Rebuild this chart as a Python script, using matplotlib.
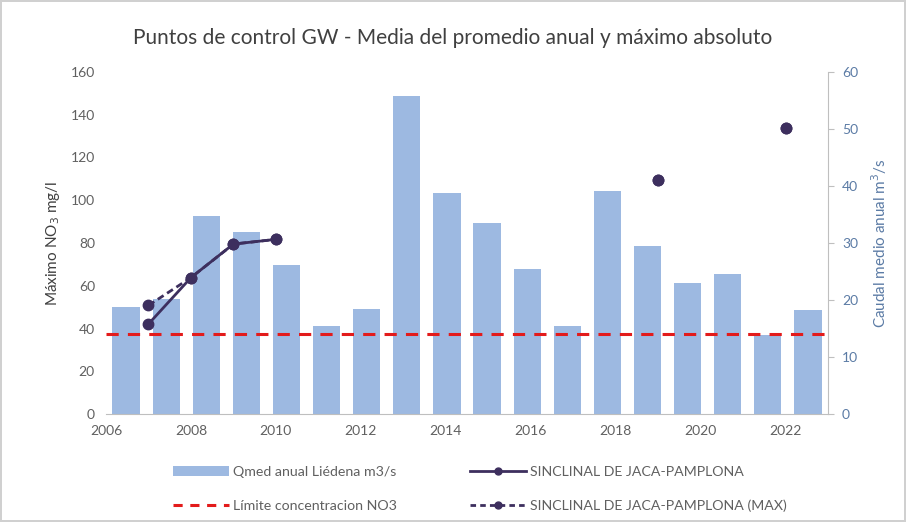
import matplotlib
matplotlib.use("Agg")
import matplotlib.pyplot as plt
import numpy as np
from matplotlib.lines import Line2D
from matplotlib.patches import Patch

years_bar = list(range(2006, 2024))
qmed = [18.8, 20.2, 34.7, 31.9, 26.1, 15.4, 18.4, 55.8, 38.8, 33.5, 25.4, 15.4,
        39.1, 29.5, 23.0, 24.6, 13.8, 18.2]

years_line = [2007, 2008, 2009, 2010, 2011, 2012, 2013, 2014, 2015, 2016, 2017, 2018, 2019, 2020, 2021, 2022]
sinclinal = [42.1, 63.8, 79.5, 81.7, np.nan, np.nan, np.nan, np.nan, np.nan, np.nan, np.nan, np.nan, 109.3, np.nan, np.nan, 134.0]
sinclinal_max = [50.8, 63.8, 79.5, 81.7, np.nan, np.nan, np.nan, np.nan, np.nan, np.nan, np.nan, np.nan, 109.3, np.nan, np.nan, 134.0]
limite = 37.5

x_ticks = list(range(2006, 2023, 2))
left_ticks = list(range(0, 161, 20))
right_ticks = list(range(0, 61, 10))

plt.rcParams['font.family'] = ['Lato', 'DejaVu Sans']

BAR_C = '#9DB9E1'
LINE_C = '#3D2F5E'
RED_C = '#E31B1B'
GRID_C = '#D6D6D6'
TXT_C = '#606060'
RIGHT_C = '#5B7BA5'

fig = plt.figure(figsize=(9.06, 5.22), dpi=100)
fig.patch.set_edgecolor('#D0D0D0')
fig.patch.set_linewidth(1.5)

pos = [106/906, 1-414/522, (828-106)/906, (414-72)/522]

# bar axes (category axis, right y)
axb = fig.add_axes(pos)
axb.bar(np.arange(len(years_bar)), qmed, width=0.68, color=BAR_C, zorder=2)
axb.set_xlim(-0.5, len(years_bar) - 0.5)
axb.set_ylim(0, 60)
axb.set_yticks(right_ticks)
axb.yaxis.tick_right()
axb.yaxis.set_label_position('right')
axb.tick_params(axis='y', colors=RIGHT_C, labelsize=10, length=4, color='#BFBFBF', pad=6)
axb.tick_params(axis='x', bottom=False, labelbottom=False)
for s in ['top', 'left', 'bottom']:
    axb.spines[s].set_visible(False)
axb.spines['right'].set_color('#BFBFBF')
axb.set_ylabel('Caudal medio anual m$^3$/s', color=RIGHT_C, fontsize=11, labelpad=8)

# grid axes behind
axg = fig.add_axes(pos, zorder=-1)
axg.set_xlim(2006, 2023)
axg.set_ylim(0, 160)
axg.set_xticks(x_ticks)
axg.set_yticks(left_ticks)
axg.grid(True, color=GRID_C, linewidth=0.9)
axg.tick_params(left=False, bottom=False, labelleft=False, labelbottom=False)
for s in axg.spines.values():
    s.set_visible(False)

# line axes on top
axl = fig.add_axes(pos, zorder=3)
axl.patch.set_alpha(0)
axl.set_xlim(2006, 2023)
axl.set_ylim(0, 160)
axl.set_xticks(x_ticks)
axl.set_yticks(left_ticks)
axl.axhline(limite, color=RED_C, linestyle=(0, (4, 3)), linewidth=2.2)
axl.plot(years_line, sinclinal_max, color=LINE_C, linestyle=(0, (2.5, 1.5)), linewidth=2,
         marker='o', markersize=7.5)
axl.plot(years_line, sinclinal, color=LINE_C, linestyle='-', linewidth=2,
         marker='o', markersize=7.5)
axl.tick_params(axis='both', colors=TXT_C, labelsize=10, length=0)
axl.tick_params(axis='x', pad=8)
axl.tick_params(axis='y', pad=8)
for s in ['top', 'right', 'left']:
    axl.spines[s].set_visible(False)
axl.spines['bottom'].set_color('#BFBFBF')
axl.set_ylabel('Máximo NO$_3$ mg/l', color='#404040', fontsize=11, labelpad=6)

fig.text(0.5, 1 - 38/522, 'Puntos de control GW - Media del promedio anual y máximo absoluto',
         ha='center', va='center', fontsize=15, color='#404040')

handles = [
    Patch(facecolor=BAR_C, edgecolor='none'),
    Line2D([], [], color=RED_C, linestyle=(0, (3, 2.5)), linewidth=2.2),
    Line2D([], [], color=LINE_C, linestyle='-', linewidth=2, marker='o', markersize=5),
    Line2D([], [], color=LINE_C, linestyle=(0, (2, 1.5)), linewidth=2, marker='o', markersize=5),
]
labels = ['Qmed anual Liédena m3/s', 'Límite concentracion NO3',
          'SINCLINAL DE JACA-PAMPLONA', 'SINCLINAL DE JACA-PAMPLONA (MAX)']
leg = fig.legend(handles, labels, ncol=2, loc='center', bbox_to_anchor=(480/906, 1 - 489/522),
                 frameon=False, fontsize=10.2, handlelength=3.9, handletextpad=0.3,
                 columnspacing=5.2, labelspacing=1.55)
for t in leg.get_texts():
    t.set_color(TXT_C)

fig.savefig('out.png', dpi=100, edgecolor=fig.get_edgecolor())
